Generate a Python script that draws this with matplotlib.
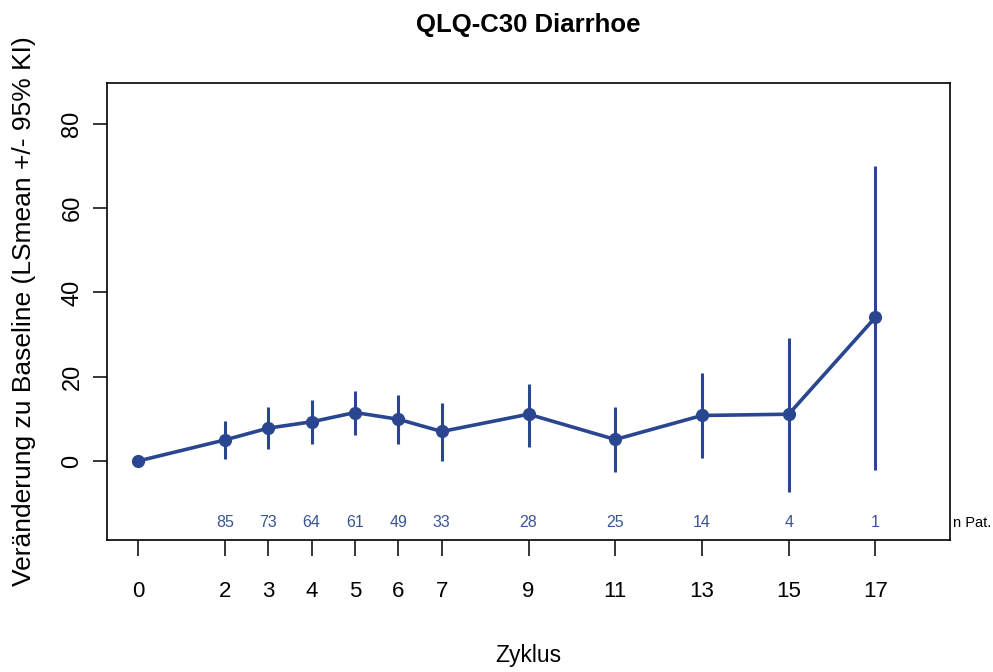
import matplotlib
matplotlib.use("Agg")
import matplotlib.pyplot as plt

cycles = [0, 2, 3, 4, 5, 6, 7, 9, 11, 13, 15, 17]
lsmean = [0.0, 5.0, 7.8, 9.3, 11.5, 9.9, 7.0, 11.1, 5.1, 10.8, 11.1, 34.1]
ci_low = [0.0, 0.4, 2.8, 4.0, 6.2, 4.0, 0.1, 3.4, -2.7, 0.6, -7.3, -2.1]
ci_high = [0.0, 9.6, 12.7, 14.5, 16.7, 15.7, 13.8, 18.3, 12.9, 20.8, 29.3, 70.0]
n_pat = ["", "85", "73", "64", "61", "49", "33", "28", "25", "14", "4", "1"]
yticks = [0, 20, 40, 60, 80]

plt.rcParams['font.family'] = ['Liberation Sans', 'DejaVu Sans']

color = "#2a4690"
fig = plt.figure(figsize=(9.93, 6.72), dpi=100)
ax = fig.add_axes([107/993, 1-540/672, (950-107)/993, (540-83)/672])

ax.vlines(cycles, ci_low, ci_high, color=color, lw=2.2)
ax.plot(cycles, lsmean, color=color, lw=2.6, marker='o', ms=8.5)
ax.set_xlim(-0.72, 18.72)
ax.set_ylim(-18.75, 89.7)

for x, n in zip(cycles, n_pat):
    if n:
        ax.text(x, -14.7, n, color="#3a5495", ha='center', va='center', fontsize=11.5)
ax.text(1.004, (-14.7+18.75)/(89.7+18.75), "n Pat.", transform=ax.transAxes, ha='left', va='center',
        fontsize=10.5, clip_on=False)

ax.set_xticks(cycles)
ax.set_xticklabels([str(c) for c in cycles], fontsize=16)
ax.set_yticks(yticks)
ax.set_yticklabels([str(v) for v in yticks], fontsize=17, rotation=90, va='center')
ax.tick_params(axis='x', length=11.5, width=1.1, pad=18)
ax.tick_params(axis='y', length=10, width=1.1, pad=7)
for s in ax.spines.values():
    s.set_linewidth(1.2)

ax.set_title("QLQ-C30 Diarrhoe", fontsize=18.5, fontweight='bold', pad=37)
ax.set_xlabel("Zyklus", fontsize=16.5, labelpad=30)
ax.set_ylabel("Veränderung zu Baseline (LSmean +/- 95% KI)", fontsize=19, labelpad=18)

fig.savefig("out.png", dpi=100)
